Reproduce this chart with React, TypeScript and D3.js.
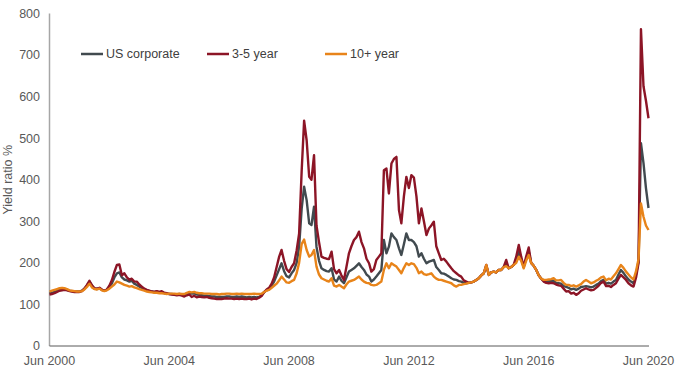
import React from "react";
import * as d3 from "d3";

// Monthly observations starting Jun 2000 (index 0) through Jun 2020 (index 240)
const usCorporate = [
  127,128,130,133,135,136,137,135,133,132,131,131,
  131,133,138,145,155,145,138,137,139,135,133,135,
  142,150,165,175,177,165,160,158,155,157,150,147,
  143,140,136,134,132,131,130,131,129,130,127,126,
  125,125,124,124,125,124,123,126,128,126,127,124,
  123,122,121,121,120,119,119,118,118,118,118,119,
  119,118,118,119,118,119,118,117,118,117,118,117,
  118,122,130,134,137,145,155,170,185,199,180,168,
  165,175,183,200,238,330,383,351,295,291,335,239,
  205,187,183,180,179,187,160,155,167,157,151,165,
  179,183,187,193,199,190,183,172,167,155,160,167,
  175,183,255,223,239,271,262,255,235,219,245,271,
  255,255,250,240,215,223,210,199,203,205,207,190,
  183,175,174,171,167,163,160,159,156,155,152,151,
  152,153,155,159,163,170,175,193,171,177,179,177,
  183,183,190,198,187,190,195,205,230,210,190,210,
  228,200,193,183,170,162,157,157,156,157,157,152,
  151,150,144,142,140,136,138,135,138,142,143,144,
  143,141,143,147,150,156,159,150,152,150,155,159,
  172,183,176,167,160,155,151,172,205,488,440,380,332,
];

const year3to5 = [
  124,125,127,130,133,134,135,134,132,131,130,130,
  130,132,138,147,157,146,139,138,140,136,133,136,
  145,158,178,195,196,170,175,165,159,162,155,155,
  148,143,138,135,133,131,130,132,130,132,128,127,
  125,124,123,122,123,121,119,122,124,118,121,117,
  119,118,117,118,116,115,114,113,113,113,114,115,
  114,114,113,114,113,114,113,113,114,112,114,113,
  116,120,129,136,140,150,165,190,215,231,205,185,
  178,190,199,230,270,420,542,495,407,400,459,290,
  250,215,212,210,209,227,185,175,183,170,159,190,
  223,240,255,262,275,250,235,210,199,179,185,207,
  215,223,423,427,367,439,450,455,327,295,360,407,
  380,411,405,360,295,331,300,267,283,290,299,240,
  223,207,210,203,195,187,180,175,170,167,158,155,
  152,153,155,159,163,170,175,195,171,177,179,177,
  183,183,190,207,187,190,195,215,243,215,190,215,
  237,200,193,183,170,162,155,152,151,152,151,148,
  146,145,138,131,132,126,128,123,127,133,136,139,
  136,134,135,140,145,152,155,144,145,142,147,151,
  162,171,165,159,151,146,143,165,200,762,625,590,548,
];

const year10plus = [
  131,133,135,137,139,140,139,137,134,133,132,131,
  131,132,136,142,150,141,137,136,138,134,132,134,
  138,143,148,155,153,150,147,145,143,144,141,139,
  137,135,133,131,130,129,128,128,127,127,126,125,
  126,126,126,125,126,125,125,128,130,129,130,128,
  127,127,126,126,126,125,125,125,124,125,125,126,
  126,125,125,126,125,126,125,125,125,125,126,125,
  125,126,130,133,135,140,145,150,158,167,160,153,
  152,156,159,175,200,245,256,231,215,219,231,191,
  172,163,160,157,155,163,145,143,147,143,139,148,
  155,157,159,163,167,160,155,152,151,147,146,147,
  151,155,183,199,187,199,195,191,183,175,188,199,
  195,199,197,188,175,179,173,171,173,175,167,162,
  159,159,157,155,153,151,146,143,147,147,149,150,
  152,153,155,159,163,170,175,195,171,177,179,177,
  183,183,190,192,187,190,195,200,215,205,187,205,
  219,200,193,183,170,162,159,159,160,161,163,158,
  158,159,152,147,147,144,146,143,146,149,155,159,
  155,151,153,157,160,165,167,158,162,160,168,175,
  185,195,188,179,172,165,160,180,210,343,311,290,279,
];

const yTicks = [0, 100, 200, 300, 400, 500, 600, 700, 800];
const xTickYears = [2000, 2004, 2008, 2012, 2016, 2020];
const seriesNames = ["US corporate", "3-5 year", "10+ year"];
const seriesColors = ["#414a4f", "#8c1526", "#e8841a"];

const W = 680;
const H = 377;

export default function App() {
  const start = new Date(2000, 5, 1);
  const end = new Date(2020, 5, 1);
  const x = d3.scaleTime().domain([start, end]).range([49.5, 648.5]);
  const y = d3.scaleLinear().domain([0, 800]).range([346, 13.5]);
  const dateAt = (i: number) => new Date(2000, 5 + i, 1);

  const line = d3
    .line<number>()
    .x((_, i) => x(dateAt(i)))
    .y((v) => y(v));

  const all = [usCorporate, year3to5, year10plus];
  const drawOrder = [0, 1, 2];

  const legendX = [81, 207, 325];
  const font = "'Liberation Sans', Arial, sans-serif";

  return (
    <svg
      width={W}
      height={H}
      style={{ position: "absolute", left: 0, top: 0, background: "#fff" }}
      fontFamily={font}
    >
      {/* y axis */}
      <line x1={49.5} x2={49.5} y1={y(800)} y2={y(0)} stroke="#a6a6a6" strokeWidth={1.5} />
      {yTicks.map((t) => (
        <text key={t} x={40} y={y(t)} dy="0.35em" textAnchor="end" fontSize={12.5} fill="#595959">
          {t}
        </text>
      ))}
      <text
        transform={`translate(12,${y(400)}) rotate(-90)`}
        textAnchor="middle"
        fontSize={12.5}
        fill="#595959"
      >
        Yield ratio %
      </text>
      {/* x axis */}
      <line x1={49.5} x2={649} y1={y(0)} y2={y(0)} stroke="#595959" strokeWidth={1} />
      {xTickYears.map((yr) => (
        <text
          key={yr}
          x={x(new Date(yr, 5, 1))}
          y={361}
          dy="0.35em"
          textAnchor="middle"
          fontSize={12.5}
          fill="#595959"
        >
          Jun {yr}
        </text>
      ))}
      {/* lines */}
      {drawOrder.map((k) => (
        <path
          key={k}
          d={line(all[k]) || ""}
          fill="none"
          stroke={seriesColors[k]}
          strokeWidth={2.4}
          strokeLinejoin="round"
        />
      ))}
      {/* legend */}
      {seriesNames.map((n, k) => (
        <g key={n}>
          <line
            x1={legendX[k]}
            x2={legendX[k] + 22}
            y1={54}
            y2={54}
            stroke={seriesColors[k]}
            strokeWidth={2.5}
          />
          <text x={legendX[k] + 25} y={54} dy="0.35em" fontSize={12.5} fill="#404040">
            {n}
          </text>
        </g>
      ))}
    </svg>
  );
}
